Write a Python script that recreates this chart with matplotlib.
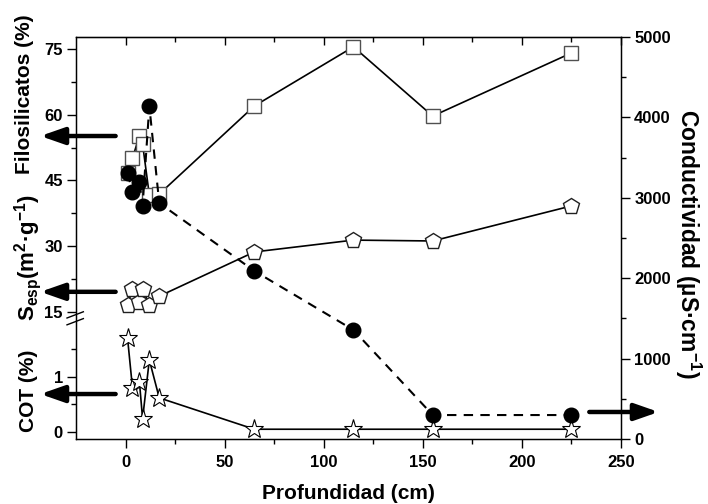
import matplotlib
matplotlib.use('Agg')
import matplotlib.pyplot as plt
import numpy as np

plt.rcParams['font.family'] = ['Liberation Sans', 'DejaVu Sans']
plt.rcParams['font.weight'] = 'bold'
plt.rcParams['mathtext.fontset'] = 'custom'
plt.rcParams['mathtext.rm'] = 'Liberation Sans:bold'
plt.rcParams['mathtext.it'] = 'Liberation Sans:bold'
plt.rcParams['mathtext.bf'] = 'Liberation Sans:bold'
plt.rcParams['mathtext.default'] = 'rm'

# profundidad de las muestras (cm)
depth = [1, 3.5, 7, 8.6, 12, 17, 65, 115, 155, 225]
filosilicatos = [46.7, 50.1, 55.2, 53.3, 41.7, 41.9, 62.0, 75.5, 59.7, 74.1]
sesp = [16.6, 20.2, 17.3, 20.2, 16.6, 18.6, 28.7, 31.4, 31.2, 39.2]
cot = [1.71, 0.80, 0.91, 0.24, 1.31, 0.62, 0.05, 0.05, 0.05, 0.05]
conductividad = [3308, 3072, 3197, 2898, 4142, 2935, 2090, 1356, 298, 298]

left_ticks = [15, 30, 45, 60, 75]
cot_ticks = [0, 1]
cond_ticks = [0, 1000, 2000, 3000, 4000, 5000]
x_ticks = [0, 50, 100, 150, 200, 250]

# eje izquierdo partido: el COT se dibuja debajo del corte
COT_OFF = -12.38
COT_SCALE = 12.55


def cot_y(c):
    return COT_OFF + COT_SCALE * np.asarray(c, dtype=float)


fig = plt.figure(figsize=(7.08, 5.04), dpi=100)
ax = fig.add_axes([76/708, 1-439/504, 545/708, 402/504])

ax.plot(depth, filosilicatos, '-', color='black', lw=1.2, marker='s', ms=10,
        mfc='white', mec='#505050', mew=1.0)
ax.plot(depth, sesp, '-', color='black', lw=1.2, marker='p', ms=12,
        mfc='white', mec='#202020', mew=1.0)
ax.plot(depth, cot_y(cot), '-', color='black', lw=1.2, marker='*', ms=14,
        mfc='white', mec='black', mew=0.8)

ax.set_xlim(-25, 250)
ax.set_ylim(-13.98, 77.74)
ax.set_xticks(x_ticks)
ax.set_xticks(np.arange(25, 250, 50), minor=True)
ax.set_yticks(left_ticks + list(cot_y(cot_ticks)))
ax.set_yticklabels([str(t) for t in left_ticks] + [str(t) for t in cot_ticks])
ax.set_yticks([22.5, 37.5, 52.5, 67.5] + list(cot_y([0.5, 1.5])), minor=True)
ax.tick_params(axis='both', which='major', direction='out', length=6.5, width=1,
               labelsize=12, pad=3)
ax.tick_params(axis='both', which='minor', direction='out', length=3.5, width=1)
ax.tick_params(axis='x', pad=5)
for s in ax.spines.values():
    s.set_linewidth(1.0)

top = ax.secondary_xaxis('top')
top.set_xticks(x_ticks)
top.set_xticks(np.arange(25, 250, 50), minor=True)
top.tick_params(which='major', direction='in', length=6, width=1, labeltop=False)
top.tick_params(which='minor', direction='in', length=3.5, width=1)

ax2 = ax.twinx()
ax2.plot(depth, conductividad, color='black', lw=1.5, dashes=(4.5, 3.5),
         marker='o', ms=10.5, mfc='black', mec='black')
ax2.set_ylim(0, 5000)
ax2.set_yticks(cond_ticks)
ax2.set_yticks(np.arange(500, 5000, 1000), minor=True)
ax2.tick_params(which='major', direction='out', length=6.5, width=1, labelsize=12, pad=3)
ax2.tick_params(which='minor', direction='out', length=3.5, width=1)

# marca de corte del eje
for y0, y1 in [(0.301, 0.3165), (0.284, 0.2995)]:
    ax.plot([-0.0165, 0.0135], [y0, y1], color='black', lw=1.0,
            transform=ax.transAxes, clip_on=False)

# flechas que indican el eje de cada serie
arrow = dict(arrowstyle='-|>,head_length=0.8,head_width=0.28', lw=3.2,
             color='black', mutation_scale=18, shrinkA=0, shrinkB=0)
for yy in [55.15, 19.6, float(cot_y(0.69))]:
    ax.annotate('', xy=(-43, yy), xytext=(-5, yy), arrowprops=arrow,
                annotation_clip=False)
ax2.annotate('', xy=(269, 336), xytext=(234, 336), arrowprops=arrow,
             annotation_clip=False)

fig.text(0.035, 0.8135, 'Filosilicatos (%)', rotation=90, ha='center', va='center',
         fontsize=15, fontweight='bold')
fig.text(0.04, 0.49, r'S$_{esp}$(m$^{2}$·g$^{-1}$)', rotation=90, ha='center',
         va='center', fontsize=16, fontweight='bold')
fig.text(0.04, 0.224, 'COT (%)', rotation=90, ha='center', va='center',
         fontsize=15, fontweight='bold')
fig.text(0.972, 0.516, r'Conductividad (µS·cm$^{-1}$)', rotation=270, ha='center',
         va='center', fontsize=16.5, fontweight='bold')
fig.text(0.492, 0.02, 'Profundidad (cm)', ha='center', va='center',
         fontsize=15, fontweight='bold')

fig.savefig('out.png', dpi=100)
